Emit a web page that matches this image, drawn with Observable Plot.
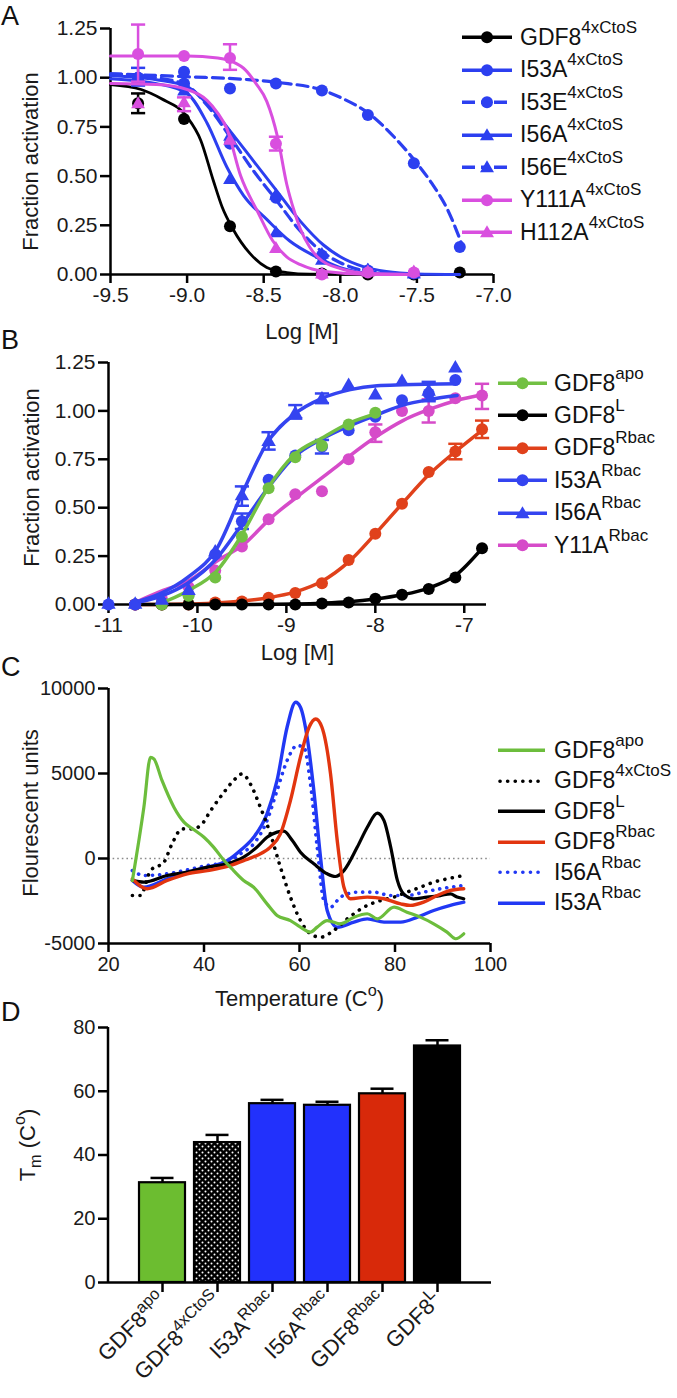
<!DOCTYPE html>
<html><head><meta charset="utf-8">
<script src="https://cdn.jsdelivr.net/npm/d3@7"></script>
<script src="https://cdn.jsdelivr.net/npm/@observablehq/plot@0.6"></script>
<style>
html,body{margin:0;padding:0;background:#fff;}
body{width:677px;height:1398px;position:relative;overflow:hidden;font-family:"Liberation Sans",Arial,Helvetica,sans-serif;color:#111;}
#root{position:relative;width:677px;height:1398px;}
.plabel{position:absolute;left:1px;font-size:27px;line-height:1;color:#111;}
.legend{position:absolute;}
.legend .row{display:flex;align-items:center;white-space:nowrap;}
.legend .txt{font-size:23px;line-height:1;color:#111;}
.legend sup{font-size:17px;vertical-align:0;position:relative;top:-12px;line-height:0;}
</style></head><body>
<div id="root"></div>
<script>
// ================= DATA =================
// Panel A : inhibition, x = log[M]
const aX = [-9.32, -9.02, -8.72, -8.42, -8.12, -7.82, -7.52, -7.22];
const aNames = ["GDF8^{4xCtoS}", "I53A^{4xCtoS}", "I53E^{4xCtoS}", "I56A^{4xCtoS}", "I56E^{4xCtoS}", "Y111A^{4xCtoS}", "H112A^{4xCtoS}"];
const aGDF8  = [0.87, 0.79, 0.245, 0.015, 0.005, 0.0, 0.0, 0.01];
const aI53A  = [1.00, 0.97, 0.665, 0.39, 0.096, 0.02, 0.005, null];
const aI53E  = [1.00, 1.03, 0.945, 0.97, 0.935, 0.81, 0.565, 0.14];
const aI56A  = [0.99, 0.93, 0.48, 0.21, 0.07, 0.02, 0.005, null];
const aI56E  = [1.00, 0.96, 0.70, 0.40, 0.10, 0.02, 0.0, null];
const aY111A = [1.12, 1.11, 1.10, 0.665, 0.0, 0.01, 0.01, null];
const aH112A = [0.865, 0.87, 0.68, 0.13, 0.0, 0.01, 0.01, null];
// fitted curves [logM, fraction]
const aFitGDF8  = [[-9.5,0.965],[-9.3,0.94],[-9.17,0.894],[-9.0,0.80],[-8.91,0.68],[-8.83,0.48],[-8.77,0.34],[-8.70,0.23],[-8.59,0.107],[-8.48,0.036],[-8.35,0.01],[-8.2,0.002],[-7.2,0.0]];
const aFitI53A  = [[-9.5,1.01],[-9.2,0.99],[-9.0,0.955],[-8.87,0.87],[-8.72,0.73],[-8.57,0.58],[-8.42,0.43],[-8.26,0.27],[-8.11,0.15],[-8.0,0.09],[-7.85,0.04],[-7.7,0.015],[-7.5,0.003],[-7.22,0.0]];
const aFitI53E  = [[-9.5,1.02],[-9.0,1.005],[-8.6,0.99],[-8.4,0.975],[-8.11,0.935],[-8.0,0.90],[-7.8,0.81],[-7.65,0.70],[-7.5,0.565],[-7.4,0.46],[-7.3,0.33],[-7.2,0.14]];
const aFitI56A  = [[-9.5,0.995],[-9.2,0.97],[-9.0,0.92],[-8.87,0.77],[-8.74,0.545],[-8.63,0.40],[-8.48,0.28],[-8.33,0.17],[-8.15,0.087],[-8.0,0.035],[-7.78,0.005],[-7.5,0.0]];
const aFitI56E  = [[-9.5,1.02],[-9.2,1.0],[-9.0,0.96],[-8.87,0.86],[-8.72,0.70],[-8.57,0.53],[-8.42,0.38],[-8.26,0.22],[-8.11,0.11],[-8.0,0.06],[-7.85,0.02],[-7.7,0.005],[-7.5,0.0]];
const aFitY111A = [[-9.5,1.11],[-9.0,1.11],[-8.8,1.10],[-8.7,1.08],[-8.62,1.04],[-8.55,0.97],[-8.48,0.88],[-8.41,0.70],[-8.35,0.46],[-8.3,0.32],[-8.26,0.23],[-8.2,0.14],[-8.15,0.09],[-8.0,0.03],[-7.8,0.005],[-7.5,0.0]];
const aFitH112A = [[-9.5,0.97],[-9.2,0.965],[-9.0,0.94],[-8.87,0.885],[-8.8,0.82],[-8.74,0.74],[-8.65,0.50],[-8.54,0.32],[-8.44,0.17],[-8.35,0.09],[-8.26,0.05],[-8.1,0.015],[-7.8,0.0],[-7.5,0.0]];
// error bars [logM, low, high]
const aErrGDF8  = [[-9.32, 0.82, 0.92]];
const aErrI56E  = [[-9.32, 0.96, 1.05]];
const aErrY111A = [[-9.32, 0.98, 1.27], [-8.72, 1.04, 1.17], [-8.42, 0.63, 0.70]];
const aErrH112A = [[-9.02, 0.83, 0.90]];
const aTicksX = [-9.5, -9.0, -8.5, -8.0, -7.5, -7.0];
const aTicksY = [0, 0.25, 0.5, 0.75, 1.0, 1.25];

// Panel B : activation, x = log[M]
const bX = [-11.0, -10.7, -10.4, -10.1, -9.8, -9.5, -9.2, -8.9, -8.6, -8.3, -8.0, -7.7, -7.4, -7.1, -6.8];
const bNames = ["GDF8^{apo}", "GDF8^{L}", "GDF8^{Rbac}", "I53A^{Rbac}", "I56A^{Rbac}", "Y11A^{Rbac}"];
const bApo  = [null, null, 0.0, 0.045, 0.14, 0.35, 0.60, 0.76, 0.82, 0.93, 0.99, null, null, null, null];
const bL    = [null, 0.0, 0.0, 0.0, 0.0, 0.0, 0.0, 0.0, 0.005, 0.01, 0.03, 0.05, 0.08, 0.14, 0.29];
const bRbac = [null, 0.0, 0.0, 0.0, 0.01, 0.015, 0.035, 0.06, 0.11, 0.23, 0.365, 0.52, 0.685, 0.79, 0.905];
const bI53A = [0.0, 0.0, 0.01, 0.05, 0.26, 0.43, 0.645, 0.77, 0.815, 0.90, 0.97, 1.055, 1.09, 1.16, null];
const bI56A = [0.0, 0.0, 0.02, 0.07, 0.27, 0.56, 0.84, 0.985, 1.06, 1.13, 1.08, 1.15, 1.10, 1.22, null];
const bY11A = [null, 0.0, 0.03, 0.09, 0.175, 0.30, 0.44, 0.57, 0.585, 0.75, 0.89, 1.0, 1.0, 1.065, 1.08];
const bFitApo  = [[-10.45,0.0],[-10.11,0.07],[-9.78,0.175],[-9.52,0.345],[-9.21,0.60],[-8.92,0.77],[-8.6,0.86],[-8.28,0.94],[-8.0,0.985]];
const bFitL    = [[-10.7,0.0],[-9.5,0.0],[-8.9,0.003],[-8.6,0.007],[-8.3,0.014],[-8.0,0.028],[-7.7,0.05],[-7.4,0.085],[-7.1,0.15],[-6.8,0.29]];
const bFitRbac = [[-10.7,0.0],[-10.1,0.002],[-9.8,0.008],[-9.5,0.018],[-9.2,0.035],[-8.9,0.065],[-8.6,0.12],[-8.3,0.22],[-8.0,0.365],[-7.7,0.52],[-7.4,0.67],[-7.1,0.79],[-6.8,0.9]];
const bFitI53A = [[-10.75,0.005],[-10.4,0.045],[-10.11,0.11],[-9.78,0.24],[-9.52,0.40],[-9.21,0.60],[-8.92,0.76],[-8.6,0.855],[-8.28,0.925],[-7.98,0.98],[-7.69,1.03],[-7.38,1.06],[-7.08,1.08]];
const bFitI56A = [[-10.75,0.005],[-10.4,0.06],[-10.11,0.14],[-9.78,0.29],[-9.52,0.55],[-9.21,0.84],[-8.92,0.98],[-8.6,1.065],[-8.28,1.11],[-7.98,1.13],[-7.69,1.135],[-7.08,1.14]];
const bFitY11A = [[-10.7,0.01],[-10.4,0.07],[-10.11,0.12],[-9.78,0.225],[-9.48,0.31],[-9.18,0.445],[-8.84,0.57],[-8.47,0.70],[-8.28,0.77],[-7.98,0.87],[-7.69,0.95],[-7.38,1.01],[-7.08,1.055],[-6.79,1.085]];
const bErrRbac = [[-7.1, 0.75, 0.83], [-6.8, 0.86, 0.95]];
const bErrI53A = [[-9.5, 0.39, 0.47], [-8.6, 0.78, 0.85]];
const bErrI56A = [[-9.5, 0.51, 0.61], [-9.2, 0.80, 0.89], [-8.9, 0.96, 1.03], [-8.6, 1.04, 1.09], [-7.4, 1.05, 1.15]];
const bErrY11A = [[-8.0, 0.84, 0.93], [-7.4, 0.94, 1.06], [-6.8, 1.01, 1.14]];
const bTicksX = [-11, -10, -9, -8, -7];
const bTicksY = [0, 0.25, 0.5, 0.75, 1.0, 1.25];

// Panel C : thermal melt curves [temperature, fluorescent units]
const cNames = ["GDF8^{apo}", "GDF8^{4xCtoS}", "GDF8^{L}", "GDF8^{Rbac}", "I56A^{Rbac}", "I53A^{Rbac}"];
const cApo  = [[25,-1300],[27.4,3000],[28.8,5950],[29.5,5860],[31.2,4590],[33.7,3020],[35.8,2140],[37.9,1690],[40,1250],[42,670],[44.2,-120],[46.2,-710],[48.3,-1290],[50.4,-1690],[53.2,-2670],[55.3,-3350],[58.1,-3650],[60.2,-4040],[62.3,-4330],[63.7,-4040],[65.8,-3650],[68.6,-3840],[71.4,-3450],[74.2,-3250],[76.3,-3550],[79.8,-2860],[82.5,-3160],[85.3,-3450],[88.1,-3840],[90.9,-4330],[92.7,-4720],[94.4,-4430]];
const cCtoS = [[25,-2180],[26.7,-2180],[28.8,-710],[31.6,-220],[33.3,860],[35.4,1740],[37.5,1740],[39.3,1940],[41.4,2820],[44.2,3900],[46.2,4590],[48,4980],[49.7,4390],[51.8,3020],[53.9,1450],[56,-510],[58.1,-2270],[60.2,-3650],[62.3,-4430],[64.4,-4630],[67.2,-4230],[70,-3550],[73.5,-2860],[77,-2470],[79.8,-2270],[82.5,-1980],[85.3,-1690],[88.1,-1390],[90.9,-1200],[94.4,-1000]];
const cL    = [[25,-1290],[27.4,-1390],[32.3,-1000],[36.5,-800],[40.7,-510],[44.9,-310],[48.3,80],[51.1,670],[53.2,1250],[55.3,1550],[56.7,1610],[58.5,1060],[60.2,370],[63,-310],[65.8,-900],[67.5,-1060],[69.3,-710],[72.1,670],[74.2,1840],[76.3,2670],[77.7,2230],[79.1,670],[80.5,-1290],[81.8,-2080],[83.9,-2370],[86.7,-2270],[89.5,-2180],[91.6,-2080],[93,-2270],[94.4,-2370]];
const cRbac = [[25,-1200],[28.1,-1780],[32.3,-1290],[36.5,-900],[40.7,-710],[44.9,-470],[48.3,-120],[51.1,180],[53.9,670],[56,1450],[58.1,3410],[60.2,5960],[62,7720],[63.4,8210],[64.7,7720],[66.5,4980],[67.9,1060],[69.3,-1690],[70.7,-2370],[74.2,-2270],[77.7,-2370],[81.2,-2670],[83.2,-2760],[86,-2570],[88.8,-2180],[91.6,-1880],[94.4,-1780]];
const cI56A = [[25,-710],[27.4,-1000],[32.3,-900],[36.5,-670],[40.7,-410],[44.9,-220],[47.6,270],[50.4,860],[53.2,2230],[55.3,4000],[57.4,5760],[59.5,6640],[60.9,6550],[62.3,4390],[63.7,670],[65.1,-2470],[66.5,-2860],[68.6,-2270],[72.1,-1980],[75.6,-1980],[79.1,-2180],[82.5,-2180],[86,-1980],[89.5,-1780],[94.4,-1590]];
const cI53A = [[25,-1290],[27.4,-1690],[32.3,-1200],[36.5,-800],[40.7,-510],[44.9,-120],[47.6,470],[50.4,1250],[53.2,2630],[55.3,4590],[57.4,7720],[59.2,9190],[60.2,8900],[61.6,7130],[63,4000],[64.4,80],[65.8,-3060],[67.9,-4040],[71.4,-3740],[74.2,-3550],[77.7,-3740],[81.2,-3740],[84.7,-3450],[88.1,-3060],[91.6,-2760],[94.4,-2570]];
const cTicksX = [20, 40, 60, 80, 100];
const cTicksY = [-5000, 0, 5000, 10000];

// Panel D : melting temperatures
const dCats = ["GDF8^{apo}", "GDF8^{4xCtoS}", "I53A^{Rbac}", "I56A^{Rbac}", "GDF8^{Rbac}", "GDF8^{L}"];
const dMean = [31.3, 43.9, 56.1, 55.6, 59.2, 74.2];
const dErr  = [1.5, 2.4, 1.2, 1.1, 1.6, 1.8];
const dTicksY = [0, 20, 40, 60, 80];

// ================= STYLES =================
const FONT = '"Liberation Sans", Arial, Helvetica, sans-serif';
const TXT = "#1a1a1a";
const A_BLUE = "#2c3ff0", A_MAG = "#d94fdf";
const B_GREEN = "#72c043", B_RED = "#e0411b", B_BLUE = "#3444f0", B_MAG = "#d64bc9";
const C_GREEN = "#6cbd3c", C_RED = "#e2350f", C_BLUE = "#2138f4";
const D_FILLS = ["#6cbd30", "url(#dots)", "#2231fc", "#2231fc", "#d8290a", "#000000"];

const capSymbol = {draw(ctx, size) { const w = Math.sqrt(size); ctx.moveTo(-w, 0); ctx.lineTo(w, 0); }};

function errMarks(errs, color, sw, capR) {
  const d = errs.map(([x, lo, hi]) => ({x, lo, hi}));
  return [
    Plot.ruleX(d, {x: "x", y1: "lo", y2: "hi", stroke: color, strokeWidth: sw}),
    Plot.dot(d, {x: "x", y: "lo", symbol: capSymbol, r: capR, stroke: color, strokeWidth: sw, fill: "none"}),
    Plot.dot(d, {x: "x", y: "hi", symbol: capSymbol, r: capR, stroke: color, strokeWidth: sw, fill: "none"})
  ];
}
function seriesMarks(xs, vals, fit, errs, st) {
  const pts = xs.map((x, j) => ({x, y: vals[j]})).filter(d => d.y != null);
  return [
    Plot.line(fit, {x: d => d[0], y: d => d[1], stroke: st.color, strokeWidth: st.sw, strokeDasharray: st.dash, curve: "monotone-x"}),
    ...errMarks(errs, st.color, st.esw || 2.5, st.capR || 4),
    Plot.dot(pts, {x: "x", y: "y", symbol: st.sym, r: st.sym === "triangle" ? st.r * 0.85 : st.r, fill: st.color, stroke: "none"})
  ];
}
function axisBits(o) {
  return [
    Plot.ruleX([o.x0], {stroke: "black", strokeWidth: 2.5}),
    Plot.ruleY([o.y0], {stroke: "black", strokeWidth: 2.5}),
    Plot.axisX({ticks: o.tx, tickFormat: o.fx, tickSize: 9, tickPadding: 4, fontSize: o.fs, stroke: "black", strokeWidth: 2.5, fill: TXT, label: null}),
    Plot.axisY({ticks: o.ty, tickFormat: o.fy, tickSize: 10, tickPadding: 3, fontSize: o.fs, stroke: "black", strokeWidth: 2.5, fill: TXT, label: null})
  ];
}
function yTitle(t, dx, dy) {
  return Plot.text([t], {frameAnchor: "left", dx, dy, rotate: -90, fontSize: 22, fill: TXT, textAnchor: "middle", lineAnchor: "middle"});
}
function xTitle(t, dy) {
  return Plot.text([t], {frameAnchor: "bottom", dy, fontSize: 22, fill: TXT, textAnchor: "middle", lineAnchor: "middle"});
}

function richify(root) {
  const NS = "http://www.w3.org/2000/svg";
  root.querySelectorAll("text").forEach(t => {
    const s = t.textContent;
    if (!/[\^_]\{/.test(s)) return;
    const fs = parseFloat(getComputedStyle(t).fontSize) || 20;
    const parts = s.split(/([\^_]\{[^}]*\})/).filter(p => p.length);
    while (t.firstChild) t.removeChild(t.firstChild);
    let cur = 0;
    for (const p of parts) {
      let txt = p, off = 0, small = false;
      if (p.startsWith("^{")) { txt = p.slice(2, -1); off = -0.42 * fs; small = true; }
      else if (p.startsWith("_{")) { txt = p.slice(2, -1); off = 0.28 * fs; small = true; }
      const ts = document.createElementNS(NS, "tspan");
      ts.textContent = txt;
      if (off !== cur) { ts.setAttribute("dy", (off - cur).toFixed(2)); cur = off; }
      if (small) ts.setAttribute("font-size", (0.74 * fs).toFixed(1));
      t.appendChild(ts);
    }
  });
}
const root = document.getElementById("root");
function mount(svg, top) {
  svg.style.position = "absolute"; svg.style.left = "0px"; svg.style.top = top + "px";
  root.appendChild(svg);
  richify(svg);
}
function toHTML(s) { return s.replace(/\^\{([^}]*)\}/g, "<sup>$1</sup>"); }
function legend(o) {
  const div = document.createElement("div");
  div.className = "legend"; div.style.left = o.left + "px"; div.style.top = o.top + "px";
  for (const it of o.items) {
    const row = document.createElement("div"); row.className = "row"; row.style.height = o.rowH + "px";
    const cy = o.rowH / 2, w = o.lineW;
    let marker = "";
    if (it.sym === "circle") marker = `<circle cx="${w/2}" cy="${cy}" r="6" fill="${it.color}"/>`;
    else if (it.sym === "triangle") marker = `<path d="M${w/2},${cy-7}L${w/2+7},${cy+5}L${w/2-7},${cy+5}Z" fill="${it.color}"/>`;
    const dash = it.dash ? `stroke-dasharray="${it.dash}"` : "";
    const cap = it.round ? `stroke-linecap="round"` : "";
    row.innerHTML = `<svg width="${w}" height="${o.rowH}" style="flex:none;margin-right:${o.gap}px;overflow:visible"><line x1="${it.round ? 2 : 0}" x2="${w}" y1="${cy}" y2="${cy}" stroke="${it.color}" stroke-width="${it.sw}" ${dash} ${cap}/>${marker}</svg><span class="txt">${toHTML(it.name)}</span>`;
    div.appendChild(row);
  }
  root.appendChild(div);
}
function letter(t, top) { const d = document.createElement("div"); d.className = "plabel"; d.style.top = top + "px"; d.textContent = t; root.appendChild(d); }

// ================= PANEL A =================
const aVals = [aGDF8, aI53A, aI53E, aI56A, aI56E, aY111A, aH112A];
const aFits = [aFitGDF8, aFitI53A, aFitI53E, aFitI56A, aFitI56E, aFitY111A, aFitH112A];
const aErrs = [aErrGDF8, [], [], [], aErrI56E, aErrY111A, aErrH112A];
const aSt = [
  {color: "#000", sw: 2.8, sym: "circle", r: 6},
  {color: A_BLUE, sw: 3, sym: "circle", r: 6},
  {color: A_BLUE, sw: 3.2, dash: "11 6", sym: "circle", r: 6},
  {color: A_BLUE, sw: 3, sym: "triangle", r: 6},
  {color: A_BLUE, sw: 3.2, dash: "11 6", sym: "triangle", r: 6},
  {color: A_MAG, sw: 3, sym: "circle", r: 6},
  {color: A_MAG, sw: 3, sym: "triangle", r: 6}
];
const pA = Plot.plot({
  width: 677, height: 345, marginTop: 28, marginBottom: 71, marginLeft: 110, marginRight: 184,
  style: {fontFamily: FONT, background: "transparent", overflow: "visible"},
  x: {domain: [-9.5, -7.0]}, y: {domain: [0, 1.25]},
  marks: [
    ...axisBits({x0: -9.5, y0: 0, tx: aTicksX, ty: aTicksY, fx: d => d.toFixed(1), fy: d => d.toFixed(2), fs: 21}),
    yTitle("Fraction activation", -80, 10),
    xTitle("Log [M]", 57),
    ...aNames.flatMap((n, i) => seriesMarks(aX, aVals[i], aFits[i], aErrs[i], aSt[i]))
  ]
});
mount(pA, 0);
legend({left: 462, top: 21, rowH: 32.5, lineW: 50, gap: 8,
  items: aNames.map((n, i) => ({name: n, color: aSt[i].color, sw: 3.4, sym: aSt[i].sym, dash: aSt[i].dash ? "13 6 8 5" : null}))});

// ================= PANEL B =================
const bVals = [bApo, bL, bRbac, bI53A, bI56A, bY11A];
const bFits = [bFitApo, bFitL, bFitRbac, bFitI53A, bFitI56A, bFitY11A];
const bErrs = [[], [], bErrRbac, bErrI53A, bErrI56A, bErrY11A];
const bSt = [
  {color: B_GREEN, sw: 3.5, sym: "circle", r: 6},
  {color: "#000", sw: 3.5, sym: "circle", r: 6},
  {color: B_RED, sw: 3.5, sym: "circle", r: 6},
  {color: B_BLUE, sw: 3.5, sym: "circle", r: 6},
  {color: B_BLUE, sw: 3.5, sym: "triangle", r: 6.3},
  {color: B_MAG, sw: 3.5, sym: "circle", r: 6}
];
const bOrder = [2, 1, 5, 3, 0, 4];
const pB = Plot.plot({
  width: 677, height: 315, marginTop: 17, marginBottom: 56, marginLeft: 108, marginRight: 191,
  style: {fontFamily: FONT, background: "transparent", overflow: "visible"},
  x: {domain: [-11, -6.75]}, y: {domain: [0, 1.25]},
  marks: [
    ...axisBits({x0: -11, y0: 0, tx: bTicksX, ty: bTicksY, fx: d => String(d), fy: d => d.toFixed(2), fs: 21}),
    yTitle("Fraction activation", -77, -6),
    xTitle("Log [M]", 48),
    ...bOrder.flatMap(i => seriesMarks(bX, bVals[i], bFits[i], bErrs[i], bSt[i]))
  ]
});
mount(pB, 345);
legend({left: 498, top: 367, rowH: 32.4, lineW: 49, gap: 7,
  items: bNames.map((n, i) => ({name: n, color: bSt[i].color, sw: 3.6, sym: bSt[i].sym}))});

// ================= PANEL C =================
const cData = [cApo, cCtoS, cL, cRbac, cI56A, cI53A];
const cSt = [
  {color: C_GREEN, sw: 3.2},
  {color: "#000", sw: 3.6, dash: "0.1 7.5", round: true},
  {color: "#000", sw: 3.2},
  {color: C_RED, sw: 3.4},
  {color: C_BLUE, sw: 3.6, dash: "0.1 7", round: true},
  {color: C_BLUE, sw: 3.4}
];
const cOrder = [5, 4, 2, 1, 3, 0];
const pC = Plot.plot({
  width: 677, height: 350, marginTop: 28, marginBottom: 67, marginLeft: 108, marginRight: 187,
  style: {fontFamily: FONT, background: "transparent", overflow: "visible"},
  x: {domain: [20, 100]}, y: {domain: [-5000, 10000]},
  marks: [
    Plot.ruleY([0], {stroke: "#8a8a8a", strokeWidth: 1.6, strokeDasharray: "1.6 3"}),
    ...axisBits({x0: 20, y0: -5000, tx: cTicksX, ty: cTicksY, fx: d => String(d), fy: d => String(d), fs: 20}),
    yTitle("Flourescent units", -78, -3),
    xTitle("Temperature (C^{o})", 55),
    ...cOrder.map(i => Plot.line(cData[i], {x: d => d[0], y: d => d[1], stroke: cSt[i].color, strokeWidth: cSt[i].sw,
      strokeDasharray: cSt[i].dash, strokeLinecap: cSt[i].round ? "round" : undefined, curve: "monotone-x"}))
  ]
});
mount(pC, 660);
legend({left: 498, top: 735, rowH: 30.5, lineW: 47, gap: 9,
  items: cNames.map((n, i) => ({name: n, color: cSt[i].color, sw: 3.6, dash: cSt[i].round ? "0.1 7.5" : null, round: cSt[i].round}))});

// ================= PANEL D =================
const dRows = dCats.map((c, i) => ({cat: c, mean: dMean[i], hi: dMean[i] + dErr[i], fill: D_FILLS[i]}));
const pD = Plot.plot({
  width: 677, height: 388, marginTop: 17, marginBottom: 116, marginLeft: 108, marginRight: 186,
  style: {fontFamily: FONT, background: "transparent", overflow: "visible"},
  x: {domain: dCats, paddingInner: 0.16, paddingOuter: 0.5},
  y: {domain: [0, 80]},
  color: {type: "identity"},
  marks: [
    Plot.ruleX(dRows, {x: "cat", y1: "mean", y2: "hi", stroke: "black", strokeWidth: 2.5}),
    Plot.tickY(dRows, {x: "cat", y: "hi", stroke: "black", strokeWidth: 2.5, insetLeft: 11.5, insetRight: 11.5}),
    Plot.barY(dRows.filter(d => !d.fill.startsWith("url")), {x: "cat", y: "mean", fill: "fill", stroke: "black", strokeWidth: 2.2}),
    Plot.barY(dRows.filter(d => d.fill.startsWith("url")), {x: "cat", y: "mean", fill: "url(#dots)", stroke: "black", strokeWidth: 2.2}),
    Plot.ruleY([0], {stroke: "black", strokeWidth: 2.5}),
    Plot.axisX({tickRotate: -45, tickSize: 10, tickPadding: 4, fontSize: 22, stroke: "black", strokeWidth: 2.5, fill: TXT, label: null}),
    Plot.axisY({ticks: dTicksY, tickFormat: d => String(d), tickSize: 10, tickPadding: 3, fontSize: 20, stroke: "black", strokeWidth: 2.5, fill: TXT, label: null}),
    yTitle("T_{m} (C^{o})", -81, -10)
  ]
});
(function () {
  const svg = d3.select(pD);
  const defs = svg.insert("defs", ":first-child");
  const pat = defs.append("pattern").attr("id", "dots").attr("patternUnits", "userSpaceOnUse").attr("width", 6).attr("height", 6);
  pat.append("rect").attr("width", 6).attr("height", 6).attr("fill", "#000");
  pat.append("circle").attr("cx", 1.5).attr("cy", 1.5).attr("r", 1).attr("fill", "#fff");
  pat.append("circle").attr("cx", 4.5).attr("cy", 4.5).attr("r", 1).attr("fill", "#fff");
  // left axis line of the bar chart frame
  svg.append("line").attr("x1", 108).attr("x2", 108).attr("y1", 17).attr("y2", 272).attr("stroke", "black").attr("stroke-width", 2.5);
})();
mount(pD, 1010);

letter("A", 3); letter("B", 327); letter("C", 654); letter("D", 999);
</script></body></html>
